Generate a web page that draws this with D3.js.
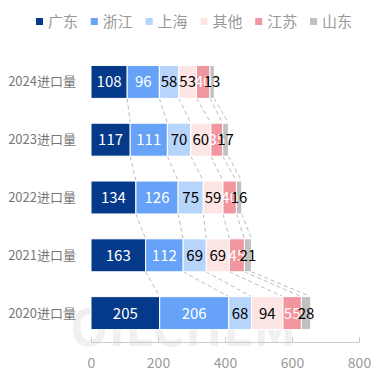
<!DOCTYPE html>
<html>
<head>
<meta charset="UTF-8">
<title></title>
<style>
  body { margin: 0; background: #fff; }
  text { font-family: "Noto Sans CJK SC", "Noto Sans", sans-serif; }
</style>
</head>
<body>
<script src="https://d3js.org/d3.v7.min.js"></script>
<script>
// 数据
var years = ["2024进口量", "2023进口量", "2022进口量", "2021进口量", "2020进口量"];
var seriesNames = ["广东", "浙江", "上海", "其他", "江苏", "山东"];
var guangdong = [108, 117, 134, 163, 205];
var zhejiang = [96, 111, 126, 112, 206];
var shanghai = [58, 70, 75, 69, 68];
var qita = [53, 60, 59, 69, 94];
var jiangsu = [40, 35, 40, 45, 55];
var shandong = [13, 17, 16, 21, 28];
var xTicks = [0, 200, 400, 600, 800];

var colors = ["#053a8a", "#65a2f8", "#b7d4fb", "#fde5e4", "#f1959f", "#c0c0c0"];
var labelColors = ["#fff", "#fff", "#000", "#000", "#fff", "#000"];

var width = 380, height = 376;
var margin = { left: 91, right: 21, top: 53, bottom: 34 };

var svg = d3.select("body").append("svg")
  .attr("width", width)
  .attr("height", height);

// 水印
svg.append("text")
  .attr("x", 70).attr("y", 346)
  .attr("font-size", 50)
  .attr("font-weight", "bold")
  .attr("fill", "#f0f0f0")
  .text("OILCHEM");

var allSeries = [guangdong, zhejiang, shanghai, qita, jiangsu, shandong];
var rows = years.map(function(y, i) {
  var acc = 0;
  var segs = allSeries.map(function(s, k) {
    var seg = { key: k, year: y, v: s[i], x0: acc, x1: acc + s[i] };
    acc += s[i];
    return seg;
  });
  return { year: y, segs: segs };
});

var x = d3.scaleLinear()
  .domain([0, 800])
  .range([margin.left, width - margin.right]);

var y = d3.scaleBand()
  .domain(years)
  .range([margin.top, height - margin.bottom])
  .paddingInner(0.43)
  .paddingOuter(0.215);

// 虚线连接
var links = [];
for (var i = 0; i < rows.length - 1; i++) {
  rows[i].segs.forEach(function(s, k) {
    links.push({
      xa: rows[i].segs[k].x1, ya: y(rows[i].year) + y.bandwidth(),
      xb: rows[i + 1].segs[k].x1, yb: y(rows[i + 1].year)
    });
  });
}
svg.append("g").selectAll("line")
  .data(links)
  .enter().append("line")
  .attr("x1", function(d) { return x(d.xa); })
  .attr("y1", function(d) { return d.ya; })
  .attr("x2", function(d) { return x(d.xb); })
  .attr("y2", function(d) { return d.yb; })
  .attr("stroke", "#bbb")
  .attr("stroke-width", 1)
  .attr("stroke-dasharray", "4,3");

// 矩形
var rowG = svg.append("g").selectAll("g")
  .data(rows)
  .enter().append("g");

rowG.selectAll("rect")
  .data(function(d) { return d.segs; })
  .enter().append("rect")
  .attr("x", function(d) { return x(d.x0); })
  .attr("y", function(d) { return y(d.year); })
  .attr("width", function(d) { return x(d.x1) - x(d.x0); })
  .attr("height", y.bandwidth())
  .attr("fill", function(d) { return colors[d.key]; })
  .attr("stroke", "#fff")
  .attr("stroke-width", 1);

rowG.selectAll("text")
  .data(function(d) { return d.segs; })
  .enter().append("text")
  .attr("x", function(d) { return (x(d.x0) + x(d.x1)) / 2; })
  .attr("y", function(d) { return y(d.year) + y.bandwidth() / 2; })
  .attr("dy", "0.36em")
  .attr("text-anchor", "middle")
  .attr("font-size", 15)
  .attr("fill", function(d) { return labelColors[d.key]; })
  .text(function(d) { return d.v; });

// y轴标签
svg.append("g").selectAll("text")
  .data(years)
  .enter().append("text")
  .attr("x", 76)
  .attr("y", function(d) { return y(d) + y.bandwidth() / 2; })
  .attr("dy", "0.35em")
  .attr("text-anchor", "end")
  .attr("font-size", 13)
  .attr("fill", "#777")
  .text(function(d) { return d; });

// x轴
var xAxis = d3.axisBottom(x)
  .tickValues(xTicks)
  .tickSize(-5)
  .tickPadding(16);
var gx = svg.append("g")
  .attr("transform", "translate(0," + (height - margin.bottom) + ")")
  .call(xAxis);
gx.select(".domain").attr("stroke", "#ccc");
gx.selectAll(".tick line").attr("stroke", "#ccc");
gx.selectAll(".tick text")
  .attr("font-size", 14)
  .attr("fill", "#999")
  .style("font-family", "\"Noto Sans CJK SC\", sans-serif");

// 图例
var legend = svg.append("g").selectAll("g")
  .data(seriesNames)
  .enter().append("g")
  .attr("transform", function(d, i) { return "translate(" + (36 + i * 54.8) + ",18)"; });
legend.append("rect")
  .attr("width", 7).attr("height", 7)
  .attr("fill", function(d, i) { return colors[i]; });
legend.append("text")
  .attr("x", 12).attr("y", 3.5)
  .attr("dy", "0.36em")
  .attr("font-size", 15)
  .attr("fill", "#999")
  .text(function(d) { return d; });
</script>
</body>
</html>
